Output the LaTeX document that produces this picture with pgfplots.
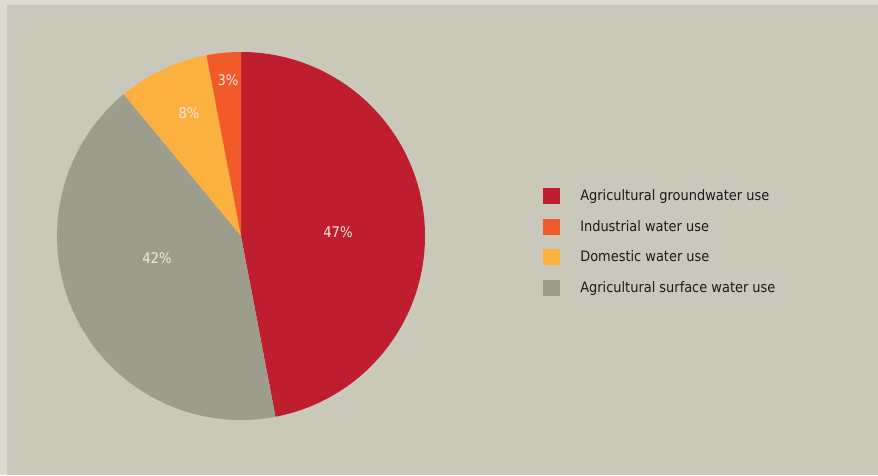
\documentclass[border=0pt]{standalone}
\usepackage{pgfplots}
\pgfplotsset{compat=1.18}
\usepackage{fontspec}
\setmainfont{DejaVu Sans Condensed}
\definecolor{bgmain}{HTML}{CAC8BA}
\definecolor{bgedge}{HTML}{DCDBD0}
\definecolor{cred}{HTML}{BE1E2D}
\definecolor{corange}{HTML}{F15A29}
\definecolor{cyellow}{HTML}{FBB040}
\definecolor{cgrey}{HTML}{9D9D8D}
\definecolor{labtxt}{HTML}{F6E6DE}
\definecolor{legtxt}{HTML}{1A1A1A}
\begin{document}
\begin{tikzpicture}
\begin{axis}[
  width=658.5pt, height=356.25pt, scale only axis,
  xmin=0, xmax=878, ymin=0, ymax=475,
  hide axis, clip=false,
  legend style={at={(axis cs:539,290)}, anchor=north west, draw=none, fill=none,
    font=\fontsize{10.8}{12}\selectfont, text=legtxt,
    nodes={inner sep=0pt, minimum height=12pt, anchor=west},
    row sep=11pt,
    /tikz/every odd column/.append style={column sep=15pt}},
  legend cell align=left,
  legend image code/.code={\fill[#1,draw=none] (0pt,-6pt) rectangle (12.75pt,6pt);},
]
\fill[bgedge] (axis cs:0,0) rectangle (axis cs:878,475);
\fill[bgmain] (axis cs:7,0) rectangle (axis cs:878,470);
\pgfplotsextra{%
  \foreach \v/\c/\cum in {47/cred/0, 42/cgrey/47, 8/cyellow/89, 3/corange/97} {
    \pgfmathsetmacro\s{90-3.6*\cum}
    \pgfmathsetmacro\e{90-3.6*(\cum+\v)}
    \fill[\c] (axis cs:241,239) -- ++(\s:138pt) arc[start angle=\s, end angle=\e, radius=138pt] -- cycle;
  }
}
\node[text=labtxt, font=\fontsize{11}{12}\selectfont] at (axis cs:338,243) {47\%};
\node[text=labtxt, font=\fontsize{11}{12}\selectfont] at (axis cs:157,217) {42\%};
\node[text=labtxt, font=\fontsize{11}{12}\selectfont] at (axis cs:189,362) {8\%};
\node[text=labtxt, font=\fontsize{11}{12}\selectfont] at (axis cs:228,395) {3\%};
\addlegendimage{fill=cred}
\addlegendentry{Agricultural groundwater use}
\addlegendimage{fill=corange}
\addlegendentry{Industrial water use}
\addlegendimage{fill=cyellow}
\addlegendentry{Domestic water use}
\addlegendimage{fill=cgrey}
\addlegendentry{Agricultural surface water use}
\end{axis}
\end{tikzpicture}
\end{document}
